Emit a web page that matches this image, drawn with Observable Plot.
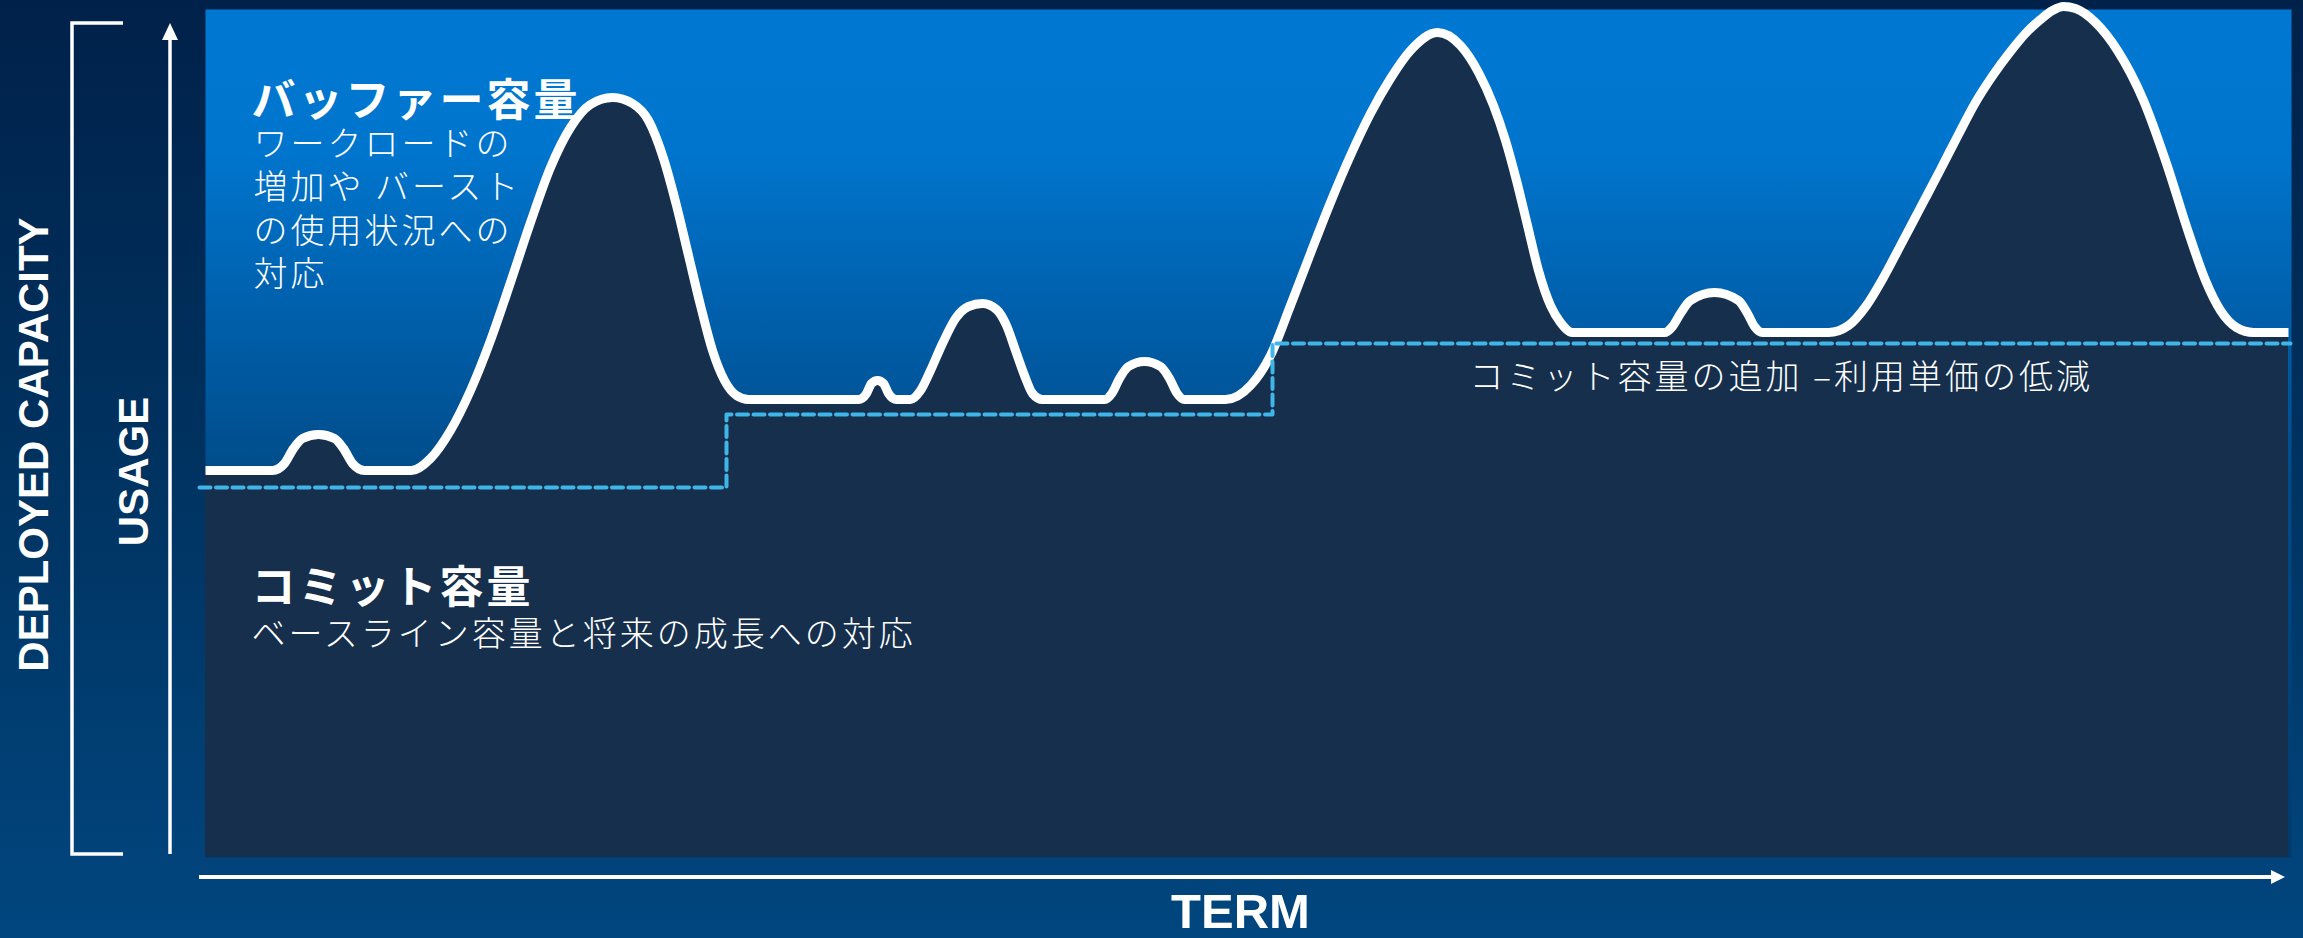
<!DOCTYPE html>
<html>
<head>
<meta charset="utf-8">
<script src="https://cdn.jsdelivr.net/npm/d3@7"></script>
<script src="https://cdn.jsdelivr.net/npm/@observablehq/plot@0.6"></script>
<style>
  html, body { margin: 0; padding: 0; background: #012a55; }
  body { width: 2303px; height: 938px; overflow: hidden; }
  #chart svg { display: block; }
</style>
</head>
<body>
<div id="chart"></div>
<script>
// ---- data (term along x, usage along y) ----
const usageTerm = [
  0, 67,
  79, 88, 97, 113, 129, 138, 147, 159, 206,
  225, 245, 265, 285, 305, 325, 345, 365, 385, 407,
  427, 443, 458, 471, 483, 495, 507, 519, 531, 543, 653,
  661, 666, 672, 678, 683, 691, 705,
  715, 725, 737, 750, 763, 777, 791, 801, 810, 819, 827, 837, 899,
  907, 914, 923, 939, 955, 964, 971, 979, 1020,
  1045, 1065, 1085, 1105, 1125, 1145, 1165, 1185, 1205, 1232,
  1255, 1273, 1288, 1300, 1311, 1322, 1333, 1345, 1355, 1367, 1459,
  1467, 1475, 1485, 1509, 1533, 1542, 1549, 1557, 1623,
  1643, 1661, 1678, 1695, 1715, 1735, 1753, 1770, 1788, 1805, 1820, 1835, 1847, 1858,
  1870, 1890, 1912, 1938, 1961, 1983, 2000, 2015, 2031, 2048, 2083
];
const usageLevel = [
  387, 387,
  394, 409, 419, 423, 419, 409, 394, 387, 387,
  399, 427, 467, 517, 575, 635, 690, 730, 753, 760,
  754, 737, 699, 652, 602, 552, 507, 477, 462, 458, 458,
  464, 474, 477, 474, 464, 458, 458,
  467, 487, 514, 539, 551, 554, 548, 532, 507, 482, 464, 458, 458,
  465, 479, 491, 496, 491, 479, 465, 458, 458,
  472, 502, 552, 604, 655, 702, 744, 779, 807, 825,
  812, 785, 752, 717, 677, 632, 587, 552, 535, 525, 525,
  531, 544, 557, 565, 557, 544, 531, 525, 525,
  532, 552, 580, 612, 650, 688, 723, 755, 783, 806, 824, 838, 847, 851,
  849, 835, 807, 757, 694, 625, 577, 547, 530, 525, 525
];
// committed capacity steps
const commitTerm  = [-6, 521, 1067, 2085];
const commitLevel = [370, 443, 514, 514];

// texts
const bufferTitle = "バッファー容量";
const bufferText  = "ワークロードの\n増加や バースト\nの使用状況への\n対応";
const commitTitle = "コミット容量";
const commitText  = "ベースライン容量と将来の成長への対応";
const addText     = "コミット容量の追加 –利用単価の低減";
const outerYLabel = "DEPLOYED CAPACITY";
const innerYLabel = "USAGE";
const xLabel      = "TERM";

// ---- layout ----
const W = 2303, H = 938;
const M = {left: 205, right: 12, top: 9, bottom: 81};
const JP = "'Noto Sans CJK JP', 'Noto Sans CJK SC', sans-serif";
const LAT = "'Liberation Sans', Arial, sans-serif";

const usage = usageTerm.map((term, i) => ({term, level: usageLevel[i]}));
const commit = commitTerm.map((term, i) => ({term, level: commitLevel[i]}));

// gradient definitions for the plot area
function gradientDefs() {
  const defs = d3.create("svg:defs");
  const g = defs.append("linearGradient").attr("id", "bufGrad")
    .attr("x1", 0).attr("y1", 0).attr("x2", 0).attr("y2", 1);
  [[0, "#0078d2"], [0.17, "#0075cd"], [0.36, "#005fab"], [0.55, "#004c89"], [1, "#003a6c"]]
    .forEach(([o, c]) => g.append("stop").attr("offset", o).attr("stop-color", c));
  return defs.node();
}

// axis decorations: bracket and arrows
function axisDecor() {
  const top = M.top, bottom = H - M.bottom, left = M.left, right = W - M.right;
  const g = d3.create("svg:g");
  g.append("path")
    .attr("d", `M${left - 82},${top + 14}H${left - 133}V${bottom - 3}H${left - 82}`)
    .attr("fill", "none").attr("stroke", "white").attr("stroke-width", 3.5);
  // vertical arrow
  g.append("line").attr("x1", left - 35).attr("x2", left - 35)
    .attr("y1", bottom - 3).attr("y2", top + 28)
    .attr("stroke", "white").attr("stroke-width", 3.5);
  g.append("path")
    .attr("d", `M${left - 43},${top + 31}L${left - 35},${top + 14}L${left - 27},${top + 31}Z`)
    .attr("fill", "white");
  // horizontal arrow
  g.append("line").attr("x1", left - 6).attr("x2", right - 14)
    .attr("y1", bottom + 20).attr("y2", bottom + 20)
    .attr("stroke", "white").attr("stroke-width", 4);
  g.append("path")
    .attr("d", `M${right - 20},${bottom + 13}L${right - 6},${bottom + 20}L${right - 20},${bottom + 27}Z`)
    .attr("fill", "white");
  return g.node();
}

const chart = Plot.plot({
  width: W,
  height: H,
  marginLeft: M.left,
  marginRight: M.right,
  marginTop: M.top,
  marginBottom: M.bottom,
  x: {domain: [0, 2086], axis: null},
  y: {domain: [0, 848], axis: null},
  style: {
    background: "linear-gradient(to bottom, #00214a 0%, #00315e 45%, #01467f 100%)",
    overflow: "visible"
  },
  marks: [
    gradientDefs,
    Plot.frame({fill: "url(#bufGrad)", stroke: "none"}),
    Plot.areaY(usage, {x: "term", y: "level", curve: "monotone-x", fill: "#152f4d"}),
    Plot.line(usage, {x: "term", y: "level", curve: "monotone-x", stroke: "white", strokeWidth: 9,
      strokeLinejoin: "round", strokeLinecap: "butt"}),
    Plot.line(commit, {x: "term", y: "level", curve: "step-after", stroke: "#3fb5e8", strokeWidth: 4, strokeDasharray: "11 5.5"}),
    // annotations
    Plot.text([bufferTitle], {x: 46, y: 742, text: d => d, textAnchor: "start", lineAnchor: "bottom",
      fill: "white", fontSize: 44, fontWeight: "bold", fontFamily: JP}),
    Plot.text([bufferText], {x: 48, y: 572, text: d => d, textAnchor: "start", lineAnchor: "bottom", lineHeight: 1.265,
      fill: "white", fontSize: 34, fontWeight: 300, fontFamily: JP}),
    Plot.text([commitTitle], {x: 46, y: 255, text: d => d, textAnchor: "start", lineAnchor: "bottom",
      fill: "white", fontSize: 44, fontWeight: "bold", fontFamily: JP}),
    Plot.text([commitText], {x: 46, y: 212, text: d => d, textAnchor: "start", lineAnchor: "bottom",
      fill: "white", fontSize: 34, fontWeight: 300, fontFamily: JP}),
    Plot.text([addText], {x: 1264, y: 469, text: d => d, textAnchor: "start", lineAnchor: "bottom",
      fill: "white", fontSize: 34, fontWeight: 300, fontFamily: JP}),
    // axis labels
    Plot.text([outerYLabel], {x: -158, y: 413, text: d => d, rotate: -90, textAnchor: "middle", lineAnchor: "bottom",
      fill: "white", fontSize: 42, fontWeight: "bold", fontFamily: LAT}),
    Plot.text([innerYLabel], {x: -58, y: 386, text: d => d, rotate: -90, textAnchor: "middle", lineAnchor: "bottom",
      fill: "white", fontSize: 42, fontWeight: "bold", fontFamily: LAT}),
    Plot.text([xLabel], {x: 1035, y: -70, text: d => d, textAnchor: "middle", lineAnchor: "bottom",
      fill: "white", fontSize: 49, fontWeight: "bold", fontFamily: LAT}),
    axisDecor
  ]
});

// wider CJK spacing like the original typeface
chart.querySelectorAll('g[font-weight="300"]').forEach(g => g.setAttribute("letter-spacing", "3"));
chart.querySelectorAll('g[font-weight="bold"][font-family*="Noto"]').forEach(g => g.setAttribute("letter-spacing", "3"));

document.getElementById("chart").appendChild(chart);
</script>
</body>
</html>
